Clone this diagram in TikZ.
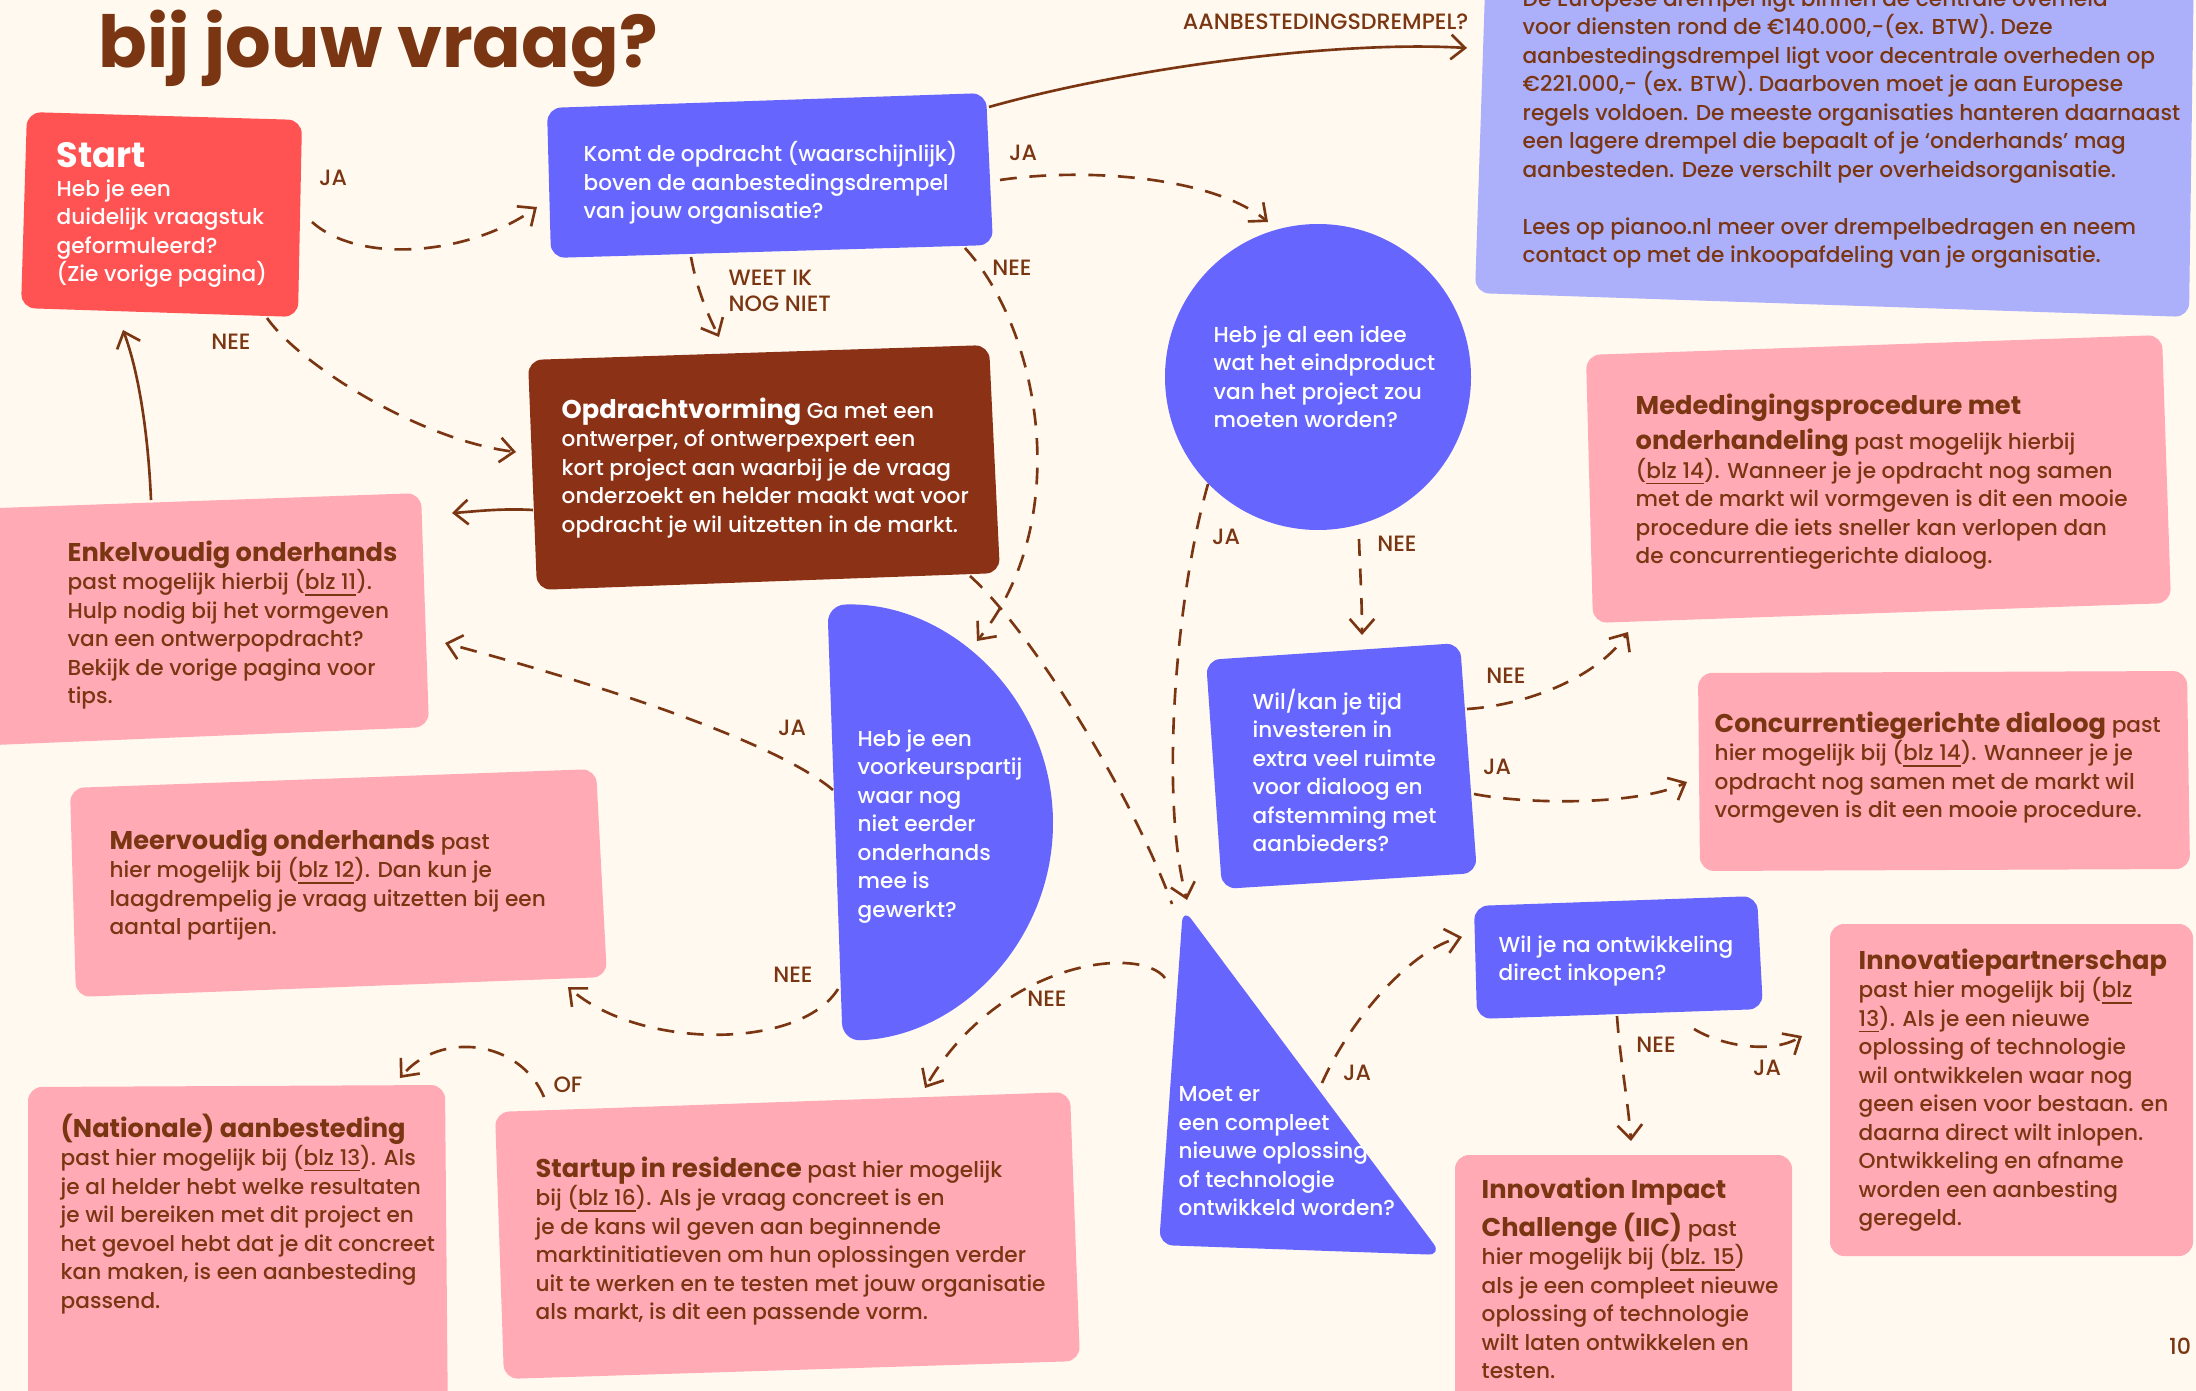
\documentclass[tikz,border=0pt]{standalone}
\usepackage{fontspec}
\setmainfont{Poppins}[UprightFont=* Medium, BoldFont=* Bold]
\usetikzlibrary{arrows.meta}
\definecolor{cream}{RGB}{255,249,239}
\definecolor{ink}{RGB}{122,54,18}
\definecolor{startred}{RGB}{255,82,82}
\definecolor{askblue}{RGB}{102,102,255}
\definecolor{lavender}{RGB}{172,175,250}
\definecolor{rosa}{RGB}{255,170,181}
\definecolor{rust}{RGB}{139,50,22}
\newcommand{\kop}[1]{{\fontsize{7.3}{8.14}\selectfont\bfseries #1}}
\newcommand{\blz}[1]{\underline{#1}}

\begin{document}
\begin{tikzpicture}[x=0.01cm, y=-0.01cm,
    >={Straight Barb[length=4pt,width=7pt]},
    txt/.style={anchor=north west, align=left, inner sep=0pt,
      font=\fontsize{6.15}{8.1}\selectfont},
    lbl/.style={color=ink, inner sep=0pt, font=\fontsize{6.3}{7.4}\selectfont},
    pad/.style={color=ink, line width=0.75pt, dash pattern=on 4.8pt off 3.6pt},
    lijn/.style={color=ink, line width=0.75pt},
    vak/.style={rounded corners=4pt}]

  \useasboundingbox (0,0) rectangle (2196,1391);
  \fill[cream] (0,0) rectangle (2196,1391);
  \clip (0,0) rectangle (2196,1391);

  % vlakken
  \fill[startred, vak] (27,112) -- (302,120) -- (298,317) -- (21,308) -- cycle;
  \fill[askblue, vak] (547,108) -- (986,93) -- (993,245) -- (551,258) -- cycle;
  \fill[lavender, vak] (1486,-40) -- (2194,-40) -- (2189,317) -- (1475,293) -- cycle;
  \fill[rust, vak] (528,360) -- (989,345) -- (1000,573) -- (537,590) -- cycle;
  \fill[rosa, vak] (-30,509) -- (421,493) -- (429,727) -- (-30,746) -- cycle;
  \fill[rosa, vak] (70,788) -- (596,769) -- (607,977) -- (76,997) -- cycle;
  \fill[rosa, vak] (28,1087) -- (445,1085) -- (448,1430) -- (28,1430) -- cycle;
  \fill[rosa, vak] (495,1112) -- (1070,1092) -- (1080,1361) -- (504,1379) -- cycle;
  \fill[askblue] (1318,377) circle[radius=153];
  \fill[askblue, rounded corners=5pt, rotate around={2:(835,823)}]
    (835,605) arc[start angle=-90, end angle=90, radius=218] -- cycle;
  \fill[askblue, vak] (1206,660) -- (1460,643) -- (1477,873) -- (1222,889) -- cycle;
  \fill[rosa, vak] (1586,355) -- (2162,335) -- (2171,603) -- (1593,623) -- cycle;
  \fill[rosa, vak] (1698,673) -- (2187,671) -- (2190,869) -- (1700,871) -- cycle;
  \fill[askblue, vak] (1183,908) -- (1442,1255) -- (1159,1245) -- cycle;
  \fill[askblue, vak] (1474,906) -- (1757,896) -- (1763,1009) -- (1477,1019) -- cycle;
  \fill[rosa, vak] (1455,1155) -- (1792,1155) -- (1792,1430) -- (1455,1430) -- cycle;
  \fill[rosa, vak] (1830,924) -- (2193,924) -- (2193,1256) -- (1830,1256) -- cycle;

  % teksten
  \draw (98,68) node[anchor=base west, inner sep=0pt, color=ink,
    font=\fontsize{20.4}{24}\selectfont\bfseries] (kop) {bij jouw vraag?};

  \draw (56,142) node[txt, color=white] (start) {{\fontsize{10}{12}\selectfont\bfseries Start}\\Heb je een\\duidelijk vraagstuk\\geformuleerd?\\(Zie vorige pagina)};
  \draw (583,141) node[txt, color=white] (komt) {Komt de opdracht (waarschijnlijk)\\boven de aanbestedingsdrempel\\van jouw organisatie?};
  \draw (1522,-11) node[txt, color=ink] (drempel) {De Europese drempel ligt binnen de centrale overheid\\voor diensten rond de €140.000,-(ex. BTW). Deze\\aanbestedingsdrempel ligt voor decentrale overheden op\\€221.000,- (ex. BTW). Daarboven moet je aan Europese\\regels voldoen. De meeste organisaties hanteren daarnaast\\een lagere drempel die bepaalt of je ‘onderhands’ mag\\aanbesteden. Deze verschilt per overheidsorganisatie.\\[8.1pt]Lees op pianoo.nl meer over drempelbedragen en neem\\contact op met de inkoopafdeling van je organisatie.};
  \draw (561,397) node[txt, color=white] (opdracht) {\kop{Opdrachtvorming} Ga met een\\ontwerper, of ontwerpexpert een\\kort project aan waarbij je de vraag\\onderzoekt en helder maakt wat voor\\opdracht je wil uitzetten in de markt.};
  \draw (67,540) node[txt, color=ink] (enkel) {\kop{Enkelvoudig onderhands}\\past mogelijk hierbij (\blz{blz 11}).\\Hulp nodig bij het vormgeven\\van een ontwerpopdracht?\\Bekijk de vorige pagina voor\\tips.};
  \draw (857,729) node[txt, color=white] (voorkeur) {Heb je een\\voorkeurspartij\\waar nog\\niet eerder\\onderhands\\mee is\\gewerkt?};
  \draw (109,828) node[txt, color=ink] (meer) {\kop{Meervoudig onderhands} past\\hier mogelijk bij (\blz{blz 12}). Dan kun je\\laagdrempelig je vraag uitzetten bij een\\aantal partijen.};
  \draw (60,1113) node[txt, color=ink] (nationaal) {\kop{(Nationale) aanbesteding}\\past hier mogelijk bij (\blz{blz 13}). Als\\je al helder hebt welke resultaten\\je wil bereiken met dit project en\\het gevoel hebt dat je dit concreet\\kan maken, is een aanbesteding\\passend.};
  \draw (535,1156) node[txt, color=ink] (startup) {\kop{Startup in residence} past hier mogelijk\\bij (\blz{blz 16}). Als je vraag concreet is en\\je de kans wil geven aan beginnende\\marktinitiatieven om hun oplossingen verder\\uit te werken en te testen met jouw organisatie\\als markt, is dit een passende vorm.};
  \draw (1213,325) node[txt, color=white] (idee) {Heb je al een idee\\wat het eindproduct\\van het project zou\\moeten worden?};
  \draw (1252,688) node[txt, color=white] (dialoog) {Wil/kan je tijd\\investeren in\\extra veel ruimte\\voor dialoog en\\afstemming met\\aanbieders?};
  \draw (1635,393) node[txt, color=ink] (mededing) {\kop{Mededingingsprocedure met}\\[2pt]\kop{onderhandeling} past mogelijk hierbij\\(\blz{blz 14}). Wanneer je je opdracht nog samen\\met de markt wil vormgeven is dit een mooie\\procedure die iets sneller kan verlopen dan\\de concurrentiegerichte dialoog.};
  \draw (1714,711) node[txt, color=ink] (concurrent) {\kop{Concurrentiegerichte dialoog} past\\hier mogelijk bij (\blz{blz 14}). Wanneer je je\\opdracht nog samen met de markt wil\\vormgeven is dit een mooie procedure.};
  \draw (1178,1086) node[txt, color=white] (nieuw) {Moet er\\een compleet\\nieuwe oplossing\\of technologie\\ontwikkeld worden?};
  \draw (1498,935) node[txt, color=white] (inkoop) {Wil je na ontwikkeling\\direct inkopen?};
  \draw (1481,1177) node[txt, color=ink] (iic) {\kop{Innovation Impact}\\[1.2pt]\kop{Challenge (IIC)} past\\hier mogelijk bij (\blz{blz. 15})\\als je een compleet nieuwe\\oplossing of technologie\\wilt laten ontwikkelen en\\testen.};
  \draw (1858,948) node[txt, color=ink] (partner) {\kop{Innovatiepartnerschap}\\past hier mogelijk bij (\blz{blz}\\\blz{13}). Als je een nieuwe\\oplossing of technologie\\wil ontwikkelen waar nog\\geen eisen voor bestaan. en\\daarna direct wilt inlopen.\\Ontwikkeling en afname\\worden een aanbesting\\geregeld.};

  % labels bij de pijlen
  \foreach \x/\y/\t [count=\i] in {333/178/JA, 1023/153/JA, 792/728/JA, 1226/537/JA,
      1497/767/JA, 1357/1073/JA, 1767/1068/JA, 231/342/NEE, 1012/268/NEE,
      793/975/NEE, 1397/544/NEE, 1506/676/NEE, 1047/999/NEE, 1656/1045/NEE, 568/1085/OF}
    \draw (\x,\y) node[lbl] (lbl\i) {\t};
  \draw (728,291) node[lbl, anchor=west, align=left] (weet) {WEET IK\\NOG NIET};
  \draw (1469,22) node[lbl, anchor=east] (drempelvraag) {AANBESTEDINGSDREMPEL?};
  \draw (2180,1346) node[lbl] (pagina) {10};

  % eindpunten
  \coordinate (startJa) at (312,222);   \coordinate (komtIn) at (537,207);
  \coordinate (komtJa) at (1000,180);   \coordinate (ideeIn) at (1268,222);
  \coordinate (komtUit) at (989,107);   \coordinate (drempelIn) at (1467,48);
  \coordinate (komtWeet) at (691,257);  \coordinate (opdrachtIn) at (719,337);
  \coordinate (komtNee) at (965,248);   \coordinate (voorkeurIn) at (977,641);
  \coordinate (startNee) at (267,318);  \coordinate (opdrachtLinks) at (516,452);
  \coordinate (opdrachtUit) at (533,510); \coordinate (enkelIn) at (452,513);
  \coordinate (enkelUit) at (151,500);  \coordinate (startIn) at (123,330);
  \coordinate (voorkeurJa) at (833,790); \coordinate (enkelJa) at (445,643);
  \coordinate (voorkeurNee) at (838,989); \coordinate (meerIn) at (568,987);
  \coordinate (opdrachtOnder) at (970,576); \coordinate (nieuwTop) at (1172,904);
  \coordinate (ideeJa) at (1208,484);   \coordinate (nieuwIn) at (1187,900);
  \coordinate (ideeNee) at (1359,539);  \coordinate (dialoogIn) at (1362,635);
  \coordinate (dialoogNee) at (1467,709); \coordinate (mededingIn) at (1628,632);
  \coordinate (dialoogJa) at (1474,794); \coordinate (concurrentIn) at (1687,782);
  \coordinate (nieuwNee) at (1165,978); \coordinate (startupIn) at (925,1088);
  \coordinate (startupOf) at (544,1097); \coordinate (nationaalIn) at (400,1078);
  \coordinate (nieuwJa) at (1322,1083); \coordinate (inkoopIn) at (1462,937);
  \coordinate (inkoopNee) at (1617,1016); \coordinate (iicIn) at (1631,1141);
  \coordinate (inkoopJa) at (1694,1029); \coordinate (partnerIn) at (1802,1036);

  % pijlen
  \draw[pad, ->] (startJa) .. controls (360,265) and (470,255) .. (komtIn);
  \draw[pad, ->] (komtJa) .. controls (1080,168) and (1210,175) .. (ideeIn);
  \draw[lijn, ->] (komtUit) .. controls (1120,70) and (1330,40) .. (drempelIn);
  \draw[pad, ->] (komtWeet) .. controls (697,290) and (708,315) .. (opdrachtIn);
  \draw[pad, ->] (komtNee) .. controls (1040,330) and (1075,520) .. (voorkeurIn);
  \draw[pad, ->] (startNee) .. controls (300,365) and (420,440) .. (opdrachtLinks);
  \draw[lijn, ->] (opdrachtUit) .. controls (500,508) and (470,512) .. (enkelIn);
  \draw[lijn, ->] (enkelUit) .. controls (148,430) and (138,370) .. (startIn);
  \draw[pad, ->] (voorkeurJa) .. controls (780,745) and (620,690) .. (enkelJa);
  \draw[pad, ->] (voorkeurNee) .. controls (800,1050) and (640,1050) .. (meerIn);
  \draw[pad] (opdrachtOnder) .. controls (1030,630) and (1130,790) .. (nieuwTop);
  \draw[pad, ->] (ideeJa) .. controls (1175,600) and (1160,800) .. (nieuwIn);
  \draw[pad, ->] (ideeNee) .. controls (1360,570) and (1362,600) .. (dialoogIn);
  \draw[pad, ->] (dialoogNee) .. controls (1530,705) and (1600,675) .. (mededingIn);
  \draw[pad, ->] (dialoogJa) .. controls (1530,805) and (1640,805) .. (concurrentIn);
  \draw[pad, ->] (nieuwNee) .. controls (1140,945) and (1000,960) .. (startupIn);
  \draw[pad, ->] (startupOf) .. controls (520,1040) and (440,1030) .. (nationaalIn);
  \draw[pad, ->] (nieuwJa) .. controls (1350,1020) and (1410,950) .. (inkoopIn);
  \draw[pad, ->] (inkoopNee) .. controls (1620,1060) and (1628,1100) .. (iicIn);
  \draw[pad, ->] (inkoopJa) .. controls (1720,1045) and (1770,1055) .. (partnerIn);

\end{tikzpicture}
\end{document}
